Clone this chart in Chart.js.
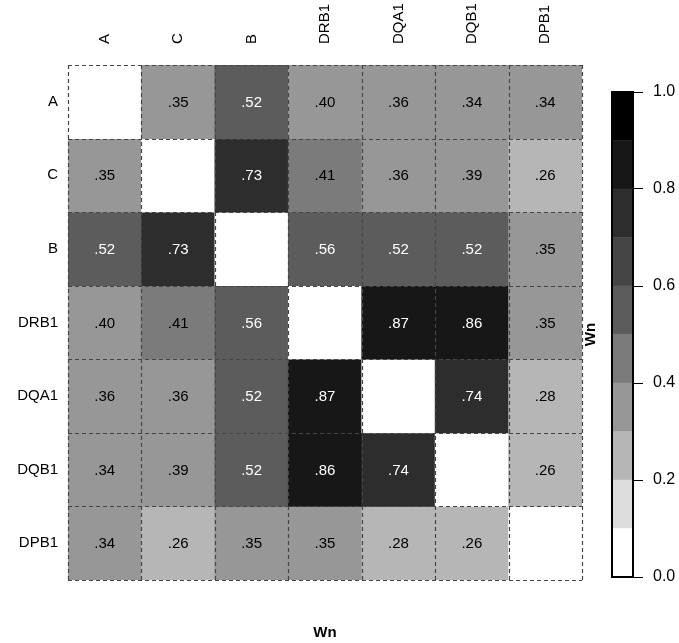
<!DOCTYPE html>
<html>
<head>
<meta charset="utf-8">
<script src="https://cdn.jsdelivr.net/npm/chart.js@4/dist/chart.umd.min.js"></script>
<style>
  html, body { margin: 0; padding: 0; background: #fff; }
  #wrap { position: relative; width: 679px; height: 643px; }
  #heat { position: absolute; left: 0; top: 0; }
  #bar { position: absolute; left: 582px; top: 0; }
</style>
</head>
<body>
<div id="wrap">
  <canvas id="heat" width="679" height="643"></canvas>
  <canvas id="bar" width="97" height="643"></canvas>
</div>
<script>
// ---- data ----
const rowLabels = ['A', 'C', 'B', 'DRB1', 'DQA1', 'DQB1', 'DPB1'];
const colLabels = ['A', 'C', 'B', 'DRB1', 'DQA1', 'DQB1', 'DPB1'];
const rowA    = [null, 0.35, 0.52, 0.398, 0.36, 0.34, 0.34];
const rowC    = [0.35, null, 0.73, 0.41, 0.36, 0.39, 0.26];
const rowB    = [0.52, 0.73, null, 0.56, 0.52, 0.52, 0.35];
const rowDRB1 = [0.398, 0.41, 0.56, null, 0.87, 0.86, 0.35];
const rowDQA1 = [0.36, 0.36, 0.52, 0.87, null, 0.74, 0.28];
const rowDQB1 = [0.34, 0.39, 0.52, 0.86, 0.74, null, 0.26];
const rowDPB1 = [0.34, 0.26, 0.35, 0.35, 0.28, 0.26, null];
const matrix = [rowA, rowC, rowB, rowDRB1, rowDQA1, rowDQB1, rowDPB1];
const scaleBreaks = [0.0, 0.1, 0.2, 0.3, 0.4, 0.5, 0.6, 0.7, 0.8, 0.9, 1.0];
const scaleTicks = [0.0, 0.2, 0.4, 0.6, 0.8, 1.0];
const binColors = ['#ffffff', '#dcdcdc', '#b6b6b6', '#979797', '#7b7b7b',
                   '#5c5c5c', '#454545', '#2d2d2d', '#171717', '#000000'];
const axisTitle = 'Wn';

function colorFor(v) {
  if (v === null || v === undefined) return '#ffffff';
  let b = Math.floor(v * 10 + 1e-9);
  if (b < 0) b = 0; if (b > 9) b = 9;
  return binColors[b];
}
function fmt(v) {
  return v.toFixed(2).replace(/^0/, '');
}

const FONT = "'Liberation Sans', Arial, sans-serif";

// ---- heatmap ----
const heatDatasets = matrix.map((row, r) => ({
  label: rowLabels[r],
  data: row.map(() => 1),
  values: row,
  backgroundColor: row.map(v => colorFor(v)),
  borderWidth: 0,
  stack: 's',
  categoryPercentage: 1.0,
  barPercentage: 1.0,
  xAxisID: 'x',
  yAxisID: 'y'
}));

const cellPlugin = {
  id: 'cellPlugin',
  afterDatasetsDraw(chart) {
    const ctx = chart.ctx;
    const ys = chart.scales.y;
    ctx.save();
    // values
    ctx.font = '15px ' + FONT;
    ctx.textAlign = 'center';
    ctx.textBaseline = 'middle';
    chart.data.datasets.forEach((ds, r) => {
      const meta = chart.getDatasetMeta(r);
      meta.data.forEach((bar, c) => {
        const v = ds.values[c];
        if (v === null) return;
        const p = bar.getCenterPoint();
        ctx.fillStyle = v >= 0.5 ? '#ffffff' : '#000000';
        ctx.fillText(fmt(v), p.x, p.y + 1);
      });
    });
    // dashed cell borders
    const meta0 = chart.getDatasetMeta(0);
    const bars = meta0.data;
    const xb = [];
    bars.forEach((b, i) => { xb.push(b.x - b.width / 2); });
    const last = bars[bars.length - 1];
    xb.push(last.x + last.width / 2);
    const yb = [];
    for (let j = 0; j <= rowLabels.length; j++) yb.push(ys.getPixelForValue(j));
    ctx.strokeStyle = '#454545';
    ctx.lineWidth = 1.2;
    ctx.setLineDash([4, 3]);
    const top = Math.min(yb[0], yb[yb.length - 1]);
    const bot = Math.max(yb[0], yb[yb.length - 1]);
    xb.forEach(x => {
      ctx.beginPath(); ctx.moveTo(Math.round(x) + 0.5, top); ctx.lineTo(Math.round(x) + 0.5, bot); ctx.stroke();
    });
    yb.forEach(y => {
      ctx.beginPath(); ctx.moveTo(xb[0], Math.round(y) + 0.5); ctx.lineTo(xb[xb.length - 1], Math.round(y) + 0.5); ctx.stroke();
    });
    ctx.restore();
  }
};

new Chart(document.getElementById('heat'), {
  type: 'bar',
  data: { labels: colLabels, datasets: heatDatasets },
  options: {
    responsive: false,
    animation: false,
    events: [],
    layout: { padding: { right: 97, left: 0, top: 0, bottom: 0 } },
    plugins: { legend: { display: false }, tooltip: { enabled: false } },
    scales: {
      x: {
        type: 'category',
        position: 'top',
        stacked: true,
        offset: true,
        grid: { display: false, drawTicks: false },
        border: { display: false },
        ticks: {
          minRotation: 90, maxRotation: 90, padding: 21, labelOffset: 18,
          color: '#000', font: { family: FONT, size: 15 }
        },
        afterFit(axis) { axis.height = 65; }
      },
      x2: {
        type: 'category',
        position: 'bottom',
        labels: colLabels,
        grid: { display: false, drawTicks: false },
        border: { display: false },
        ticks: { display: false },
        title: {
          display: true, text: axisTitle, color: '#000',
          font: { family: FONT, size: 15, weight: 'bold' },
          padding: { top: 0, bottom: 1 }
        },
        afterFit(axis) { axis.height = 63; }
      },
      y: {
        type: 'linear',
        stacked: true,
        min: 0, max: 7,
        reverse: true,
        grid: { display: false, drawTicks: false },
        border: { display: false },
        afterBuildTicks(axis) {
          axis.ticks = rowLabels.map((_, i) => ({ value: i + 0.5 }));
        },
        ticks: {
          padding: 10, color: '#000', font: { family: FONT, size: 15 },
          callback(v, i) { return rowLabels[i]; }
        },
        afterFit(axis) { axis.width = 68; }
      }
    }
  },
  plugins: [cellPlugin]
});

// ---- colour bar ----
const barDatasets = binColors.map((col, i) => ({
  label: scaleBreaks[i] + '-' + scaleBreaks[i + 1],
  data: [+(scaleBreaks[i + 1] - scaleBreaks[i]).toFixed(2)],
  backgroundColor: col,
  borderWidth: 0,
  stack: 's',
  categoryPercentage: 1.0,
  barPercentage: 1.0
}));

const boxPlugin = {
  id: 'boxPlugin',
  afterDatasetsDraw(chart) {
    const a = chart.chartArea;
    const ctx = chart.ctx;
    ctx.save();
    ctx.strokeStyle = '#000';
    ctx.lineWidth = 2;
    ctx.strokeRect(a.left, a.top, a.right - a.left, a.bottom - a.top);
    ctx.restore();
  }
};

new Chart(document.getElementById('bar'), {
  type: 'bar',
  data: { labels: [''], datasets: barDatasets },
  options: {
    responsive: false,
    animation: false,
    events: [],
    layout: { padding: { top: 92, bottom: 66, left: 0, right: 0 } },
    plugins: { legend: { display: false }, tooltip: { enabled: false } },
    scales: {
      x: { display: false, stacked: true },
      y: {
        type: 'linear',
        position: 'right',
        stacked: true,
        min: 0, max: 1,
        afterBuildTicks(axis) {
          axis.ticks = scaleTicks.map(v => ({ value: v }));
        },
        grid: { drawOnChartArea: false, drawTicks: true, tickLength: 10, color: '#000', tickColor: '#000', lineWidth: 1 },
        border: { display: false },
        ticks: {
          padding: 10, color: '#000', font: { family: FONT, size: 16 },
          callback(v) { return Number(v).toFixed(1); }
        },
        afterFit(axis) { axis.width = 46; }
      },
      y2: {
        type: 'linear',
        position: 'left',
        min: 0, max: 1,
        grid: { display: false, drawTicks: false },
        border: { display: false },
        ticks: { display: false },
        title: {
          display: true, text: axisTitle, color: '#000',
          font: { family: FONT, size: 15, weight: 'bold' },
          padding: { top: 0, bottom: 0 }
        },
        afterFit(axis) { axis.width = 30; }
      }
    }
  },
  plugins: [boxPlugin]
});
</script>
</body>
</html>
